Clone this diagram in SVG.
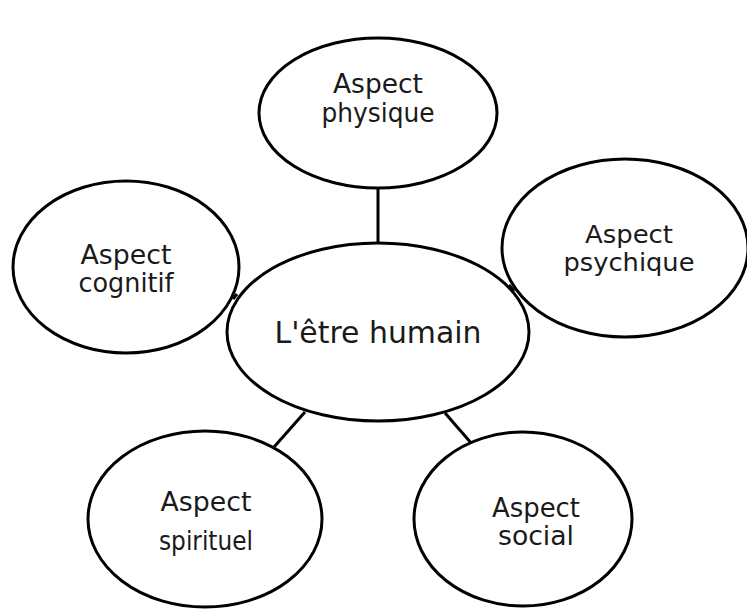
<svg xmlns="http://www.w3.org/2000/svg" width="747" height="609" viewBox="0 0 747 609">
<style>
.n{fill:#fff;stroke:#000;stroke-width:3}
.c{stroke:#000;stroke-width:3;fill:none}
text{font-family:"DejaVu Sans","Liberation Sans",sans-serif;font-size:26px;fill:#1a1a1a;text-anchor:middle}
.big{font-size:31px}
.sm{font-size:24px}
</style>
<rect width="747" height="609" fill="#fff"/>
<g id="connectors">
<line class="c" x1="378" y1="188" x2="378" y2="243"/>
<line class="c" x1="305" y1="412" x2="274" y2="447"/>
<line class="c" x1="445" y1="413" x2="472" y2="444"/>
<line class="c" x1="233" y1="299" x2="237" y2="294"/>
<line class="c" x1="509" y1="285" x2="514" y2="291"/>
</g>
<g id="physique">
<ellipse class="n" cx="378" cy="113" rx="119" ry="75"/>
<text x="378" y="93" textLength="90" lengthAdjust="spacingAndGlyphs">Aspect</text>
<text x="378" y="122" textLength="113" lengthAdjust="spacingAndGlyphs">physique</text>
</g>
<g id="psychique">
<ellipse class="n" cx="625" cy="248" rx="123" ry="89"/>
<text class="sm" x="629" y="243" textLength="88" lengthAdjust="spacingAndGlyphs">Aspect</text>
<text class="sm" x="629" y="271" textLength="131" lengthAdjust="spacingAndGlyphs">psychique</text>
</g>
<g id="cognitif">
<ellipse class="n" cx="126" cy="267" rx="113" ry="86"/>
<text x="126" y="264" textLength="91" lengthAdjust="spacingAndGlyphs">Aspect</text>
<text x="126" y="292" textLength="95" lengthAdjust="spacingAndGlyphs">cognitif</text>
</g>
<g id="humain">
<ellipse class="n" cx="378" cy="332" rx="151" ry="89"/>
<text class="big" x="378" y="343" textLength="207" lengthAdjust="spacingAndGlyphs">L'être humain</text>
</g>
<g id="spirituel">
<ellipse class="n" cx="205" cy="519" rx="117" ry="88"/>
<text x="206" y="511" textLength="91" lengthAdjust="spacingAndGlyphs">Aspect</text>
<text x="206" y="550" textLength="94" lengthAdjust="spacingAndGlyphs">spirituel</text>
</g>
<g id="social">
<ellipse class="n" cx="523" cy="519" rx="109" ry="87"/>
<text x="536" y="517" textLength="88" lengthAdjust="spacingAndGlyphs">Aspect</text>
<text x="536" y="545" textLength="76" lengthAdjust="spacingAndGlyphs">social</text>
</g>
</svg>
